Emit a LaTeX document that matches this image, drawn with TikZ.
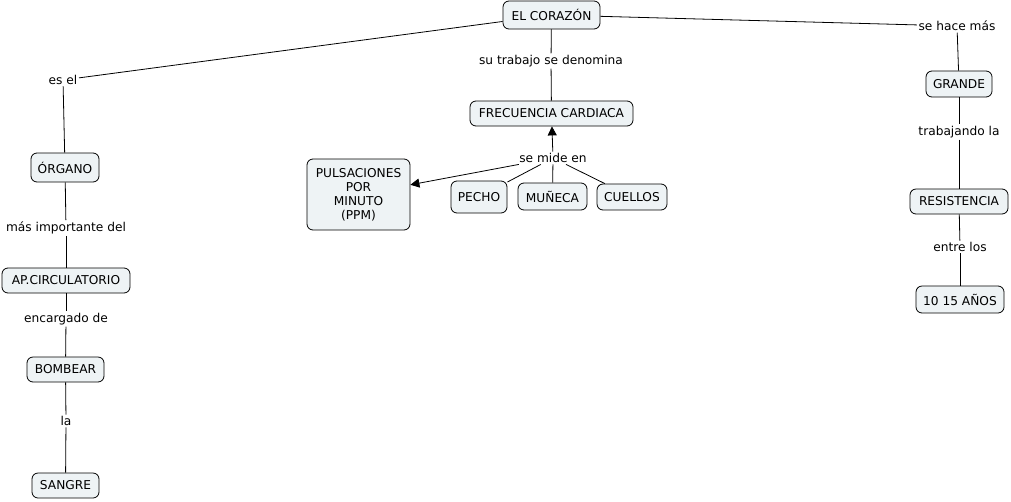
\documentclass[tikz,border=0pt]{standalone}
\usepackage{fontspec}
\setmainfont{DejaVu Sans}
\usetikzlibrary{arrows.meta}
\definecolor{cfill}{HTML}{EEF3F5}
\begin{document}
\begin{tikzpicture}[x=1pt,y=-1pt,
  concept/.style={draw=black, line width=0.8pt, fill=cfill, rounded corners=6pt,
    inner sep=0pt, font=\fontsize{12.2}{14}\selectfont, align=center},
  linkl/.style={inner sep=1.5pt, font=\fontsize{12.2}{14}\selectfont},
  conn/.style={line width=0.8pt},
  arr/.style={line width=0.8pt, -{Triangle[length=9pt,width=9pt]}}]
\useasboundingbox (0,0) rectangle (1011,501);
% concepts
\node[concept, minimum width=97pt, minimum height=28pt] (cor) at (551.5,15) {EL CORAZÓN};
\node[concept, minimum width=163pt, minimum height=25pt] (fc) at (551.5,113.5) {FRECUENCIA CARDIACA};
\node[concept, minimum width=103pt, minimum height=71pt] (ppm) at (358.5,194.5) {PULSACIONES\\POR\\MINUTO\\(PPM)};
\node[concept, minimum width=56pt, minimum height=32pt] (pecho) at (479,197) {PECHO};
\node[concept, minimum width=69pt, minimum height=27pt] (muneca) at (552.5,196.5) {MUÑECA};
\node[concept, minimum width=70pt, minimum height=26pt] (cuellos) at (632,197) {CUELLOS};
\node[concept, minimum width=68pt, minimum height=29pt] (organo) at (65,167.5) {ÓRGANO};
\node[concept, minimum width=128pt, minimum height=25pt] (apc) at (66,280.5) {AP.CIRCULATORIO};
\node[concept, minimum width=77pt, minimum height=25pt] (bombear) at (65.5,369.5) {BOMBEAR};
\node[concept, minimum width=67pt, minimum height=25pt] (sangre) at (65.5,485.5) {SANGRE};
\node[concept, minimum width=66pt, minimum height=26pt] (grande) at (959,84) {GRANDE};
\node[concept, minimum width=98pt, minimum height=25pt] (resist) at (959,201.5) {RESISTENCIA};
\node[concept, minimum width=88pt, minimum height=27pt] (anos) at (960,299.5) {10 15 AÑOS};
% linking phrases
\node[linkl] (ltrab) at (551,61) {su trabajo se denomina};
\node[linkl] (lmide) at (553,158) {se mide en};
\node[linkl] (lesel) at (63,80) {es el};
\node[linkl] (lmas) at (66,228) {más importante del};
\node[linkl] (lenc) at (66,319) {encargado de};
\node[linkl] (lla) at (66,421) {la};
\node[linkl] (lhace) at (957,26) {se hace más};
\node[linkl] (ltrabla) at (959,132) {trabajando la};
\node[linkl] (lentre) at (960,247) {entre los};
% connectors
\draw[conn] (cor) -- (ltrab);
\draw[conn] (ltrab) -- (fc);
\draw[arr] (lmide) -- (fc);
\draw[arr] (lmide) -- (ppm);
\draw[conn] (pecho) -- (lmide);
\draw[conn] (muneca) -- (lmide);
\draw[conn] (cuellos) -- (lmide);
\draw[conn] (cor) -- (lesel);
\draw[conn] (lesel) -- (organo);
\draw[conn] (organo) -- (lmas);
\draw[conn] (lmas) -- (apc);
\draw[conn] (apc) -- (lenc);
\draw[conn] (lenc) -- (bombear);
\draw[conn] (bombear) -- (lla);
\draw[conn] (lla) -- (sangre);
\draw[conn] (cor) -- (lhace);
\draw[conn] (lhace) -- (grande);
\draw[conn] (grande) -- (ltrabla);
\draw[conn] (ltrabla) -- (resist);
\draw[conn] (resist) -- (lentre);
\draw[conn] (lentre) -- (anos);
\end{tikzpicture}
\end{document}
